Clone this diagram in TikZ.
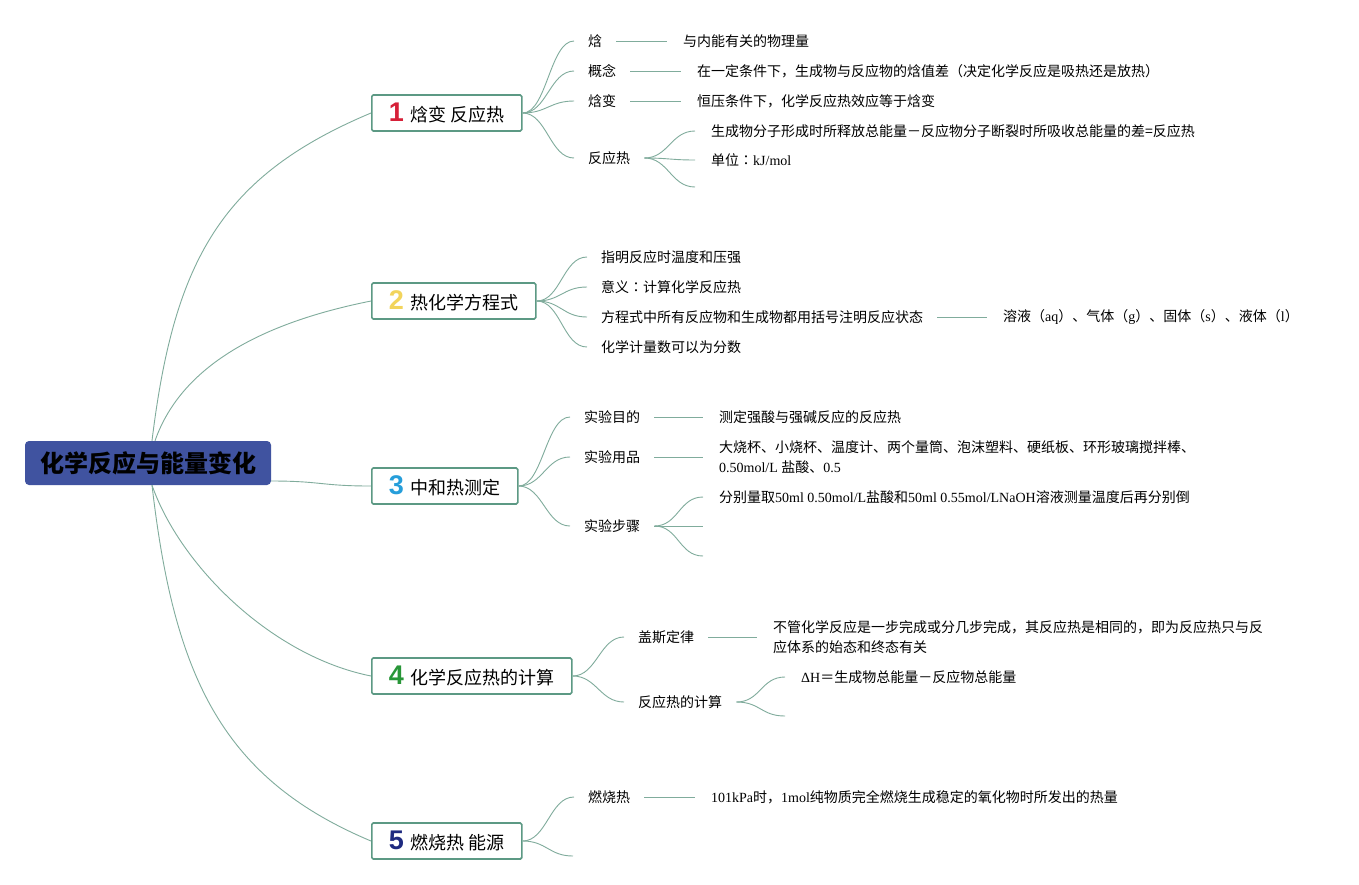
\documentclass[tikz,border=0pt]{standalone}
\usepackage{fontspec}
\setmainfont{Liberation Serif}
\newfontfamily\cjk{Noto Sans CJK SC}
\newfontfamily\cjktc{Noto Sans CJK TC}
\newfontfamily\numfont{Liberation Sans}
\definecolor{twigcol}{RGB}{128,172,156}
\definecolor{framecol}{RGB}{92,153,132}
\definecolor{rootcol}{RGB}{64,83,160}
\definecolor{numred}{RGB}{214,32,56}
\definecolor{numyellow}{RGB}{242,212,92}
\definecolor{numblue}{RGB}{38,158,218}
\definecolor{numgreen}{RGB}{40,150,56}
\definecolor{numnavy}{RGB}{30,42,128}
\newcommand{\lat}[1]{{\rmfamily #1}}
\newcommand{\dcolon}{{\cjktc ：}}
\newcommand{\num}[2]{{\numfont\bfseries\fontsize{27}{27}\selectfont\color{#1}#2}\hspace{7pt}}
\newcommand{\trunk}[4]{\draw[twig] (#1) .. controls +(#3) and +(#4) .. (#2)}
\newcommand{\link}[2]{\draw[twig] (#1) .. controls +(24,0) and +(-24,0) .. (#2)}
\newcommand{\bond}[2]{\draw[twig] (#1) -- (#2)}

\begin{document}
\begin{tikzpicture}[x=1pt,y=-1pt,
  twig/.style={draw=twigcol,line width=0.9pt},
  rootbox/.style={fill=rootcol,rounded corners=4pt,minimum width=246pt,minimum height=44pt,
    font=\cjk\bfseries\fontsize{24}{28}\selectfont},
  branch/.style={draw=framecol,line width=1.6pt,fill=white,rounded corners=1.5pt,anchor=west,
    minimum height=36pt,inner xsep=17pt,font=\cjk\fontsize{18}{22}\selectfont},
  leaf/.style={anchor=west,inner xsep=14pt,inner ysep=2pt,font=\cjk\fontsize{14}{17}\selectfont},
  note/.style={anchor=west,inner xsep=16pt,inner ysep=2pt,align=left,font=\cjk\fontsize{14}{20}\selectfont}]
\fill[white] (0,0) rectangle (1359,884);
\useasboundingbox (0,0) rectangle (1359,884);
%The root
	\node[rootbox] (root) at (148,463) {化学反应与能量变化};
%The branches
	\node[branch] (b1) at (371,113) {\num{numred}{1}焓变 反应热};
	\node[branch] (b2) at (371,301) {\num{numyellow}{2}热化学方程式};
	\node[branch] (b3) at (371,486) {\num{numblue}{3}中和热测定};
	\node[branch] (b4) at (371,676) {\num{numgreen}{4}化学反应热的计算};
	\node[branch] (b5) at (371,841) {\num{numnavy}{5}燃烧热 能源};
	\trunk{[xshift=4pt]root.north}{b1.west}{22,-180}{-150,63};
	\trunk{[xshift=7pt]root.north}{b2.west}{28,-80}{-100,20};
	\trunk{[yshift=-18pt]root.east}{b3.west}{50,0}{-50,0};
	\trunk{[xshift=4pt]root.south}{b4.west}{28,80}{-100,-20};
	\trunk{[xshift=4pt]root.south}{b5.west}{22,190}{-150,-63};
%The first branch
	\node[leaf] (l11) at (574,41) {焓};
	\node[leaf] (l12) at (574,71) {概念};
	\node[leaf] (l13) at (574,101) {焓变};
	\node[leaf] (l14) at (574,158) {反应热};
	\node[note] (n11) at (667,41) {与内能有关的物理量};
	\node[note] (n12) at (681,71) {在一定条件下，生成物与反应物的焓值差（决定化学反应是吸热还是放热）};
	\node[note] (n13) at (681,101) {恒压条件下，化学反应热效应等于焓变};
	\node[note] (n14a) at (695,131) {生成物分子形成时所释放总能量－反应物分子断裂时所吸收总能量的差=反应热};
	\node[note] (n14b) at (695,160) {单位\dcolon\lat{kJ/mol}};
	\coordinate (n14c) at (695,187);
	\link{b1.east}{l11.west};
	\link{b1.east}{l12.west};
	\link{b1.east}{l13.west};
	\link{b1.east}{l14.west};
	\bond{l11.east}{n11.west};
	\bond{l12.east}{n12.west};
	\bond{l13.east}{n13.west};
	\link{l14.east}{n14a.west};
	\link{l14.east}{n14b.west};
	\link{l14.east}{n14c};
%The second branch
	\node[leaf] (l21) at (587,257) {指明反应时温度和压强};
	\node[leaf] (l22) at (587,287) {意义\dcolon 计算化学反应热};
	\node[leaf] (l23) at (587,317) {方程式中所有反应物和生成物都用括号注明反应状态};
	\node[leaf] (l24) at (587,347) {化学计量数可以为分数};
	\node[note] (n23) at (987,317) {溶液（\lat{aq}）、气体（\lat{g}）、固体（\lat{s}）、液体（\lat{l}）};
	\link{b2.east}{l21.west};
	\link{b2.east}{l22.west};
	\link{b2.east}{l23.west};
	\link{b2.east}{l24.west};
	\bond{l23.east}{n23.west};
%The third branch
	\node[leaf] (l31) at (570,417) {实验目的};
	\node[leaf] (l32) at (570,457) {实验用品};
	\node[leaf] (l33) at (570,526) {实验步骤};
	\node[note] (n31) at (703,417) {测定强酸与强碱反应的反应热};
	\node[note] (n32) at (703,457) {大烧杯、小烧杯、温度计、两个量筒、泡沫塑料、硬纸板、环形玻璃搅拌棒、\\\lat{0.50mol/L }盐酸、\lat{0.5}};
	\node[note] (n33a) at (703,497) {分别量取\lat{50ml 0.50mol/L}盐酸和\lat{50ml 0.55mol/LNaOH}溶液测量温度后再分别倒};
	\coordinate (n33b) at (703,526);
	\coordinate (n33c) at (703,556);
	\link{b3.east}{l31.west};
	\link{b3.east}{l32.west};
	\link{b3.east}{l33.west};
	\bond{l31.east}{n31.west};
	\bond{l32.east}{n32.west};
	\link{l33.east}{n33a.west};
	\link{l33.east}{n33b};
	\link{l33.east}{n33c};
%The fourth branch
	\node[leaf] (l41) at (624,637) {盖斯定律};
	\node[leaf] (l42) at (624,702) {反应热的计算};
	\node[note] (n41) at (757,637) {不管化学反应是一步完成或分几步完成，其反应热是相同的，即为反应热只与反\\应体系的始态和终态有关};
	\node[note] (n42a) at (785,677) {\lat{ΔH}＝生成物总能量－反应物总能量};
	\coordinate (n42b) at (785,716);
	\link{b4.east}{l41.west};
	\link{b4.east}{l42.west};
	\bond{l41.east}{n41.west};
	\link{l42.east}{n42a.west};
	\link{l42.east}{n42b};
%The fifth branch
	\node[leaf] (l51) at (574,797) {燃烧热};
	\node[note] (n51) at (695,797) {\lat{101kPa}时，\lat{1mol}纯物质完全燃烧生成稳定的氧化物时所发出的热量};
	\coordinate (c52) at (573,856);
	\link{b5.east}{l51.west};
	\link{b5.east}{c52};
	\bond{l51.east}{n51.west};
\end{tikzpicture}
\end{document}
